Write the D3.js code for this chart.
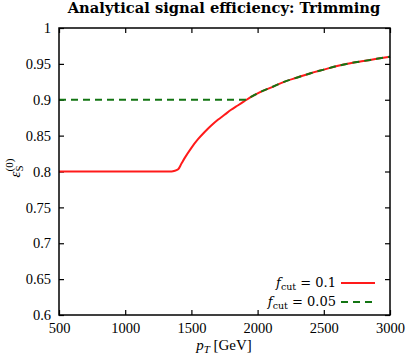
<!DOCTYPE html>
<html>
<head>
<meta charset="utf-8">
<script src="https://cdn.jsdelivr.net/npm/d3@7"></script>
<style>
  body { margin: 0; background: #fff; }
  text { font-family: "Liberation Serif", "DejaVu Serif", serif; }
  .dv { font-family: "DejaVu Serif", serif; }
</style>
</head>
<body>
<script>
// values
const ptTrim   = [500, 1350, 1375, 1400, 1425, 1450, 1500, 1550, 1600, 1650, 1700, 1750, 1800, 1850, 1900, 1950, 2000, 2100, 2200, 2300, 2400, 2500, 2600, 2700, 2800, 2900, 3000];
const effCut10 = [0.800, 0.800, 0.801, 0.803, 0.811, 0.819, 0.833, 0.845, 0.855, 0.864, 0.872, 0.879, 0.886, 0.892, 0.898, 0.904, 0.909, 0.917, 0.925, 0.931, 0.937, 0.942, 0.947, 0.951, 0.954, 0.957, 0.960];
const effCut05 = [0.900, 0.900, 0.900, 0.900, 0.900, 0.900, 0.900, 0.900, 0.900, 0.900, 0.900, 0.900, 0.900, 0.900, 0.900, 0.904, 0.909, 0.917, 0.925, 0.931, 0.937, 0.942, 0.947, 0.951, 0.954, 0.957, 0.960];
const xTicks = [500, 1000, 1500, 2000, 2500, 3000];
const yTicks = [0.6, 0.65, 0.7, 0.75, 0.8, 0.85, 0.9, 0.95, 1];

const width = 407, height = 357;
const margin = {left: 59, right: 17, top: 28, bottom: 42};
const w = width - margin.left - margin.right;
const h = height - margin.top - margin.bottom;

const svg = d3.select("body").append("svg")
    .attr("width", width)
    .attr("height", height);

const g = svg.append("g")
    .attr("transform", "translate(" + margin.left + "," + margin.top + ")");

const x = d3.scaleLinear().domain([500, 3000]).range([0, w]);
const y = d3.scaleLinear().domain([0.6, 1]).range([h, 0]);

// inward ticks on all sides
const tickLen = 5;
g.append("g")
    .attr("transform", "translate(0," + h + ")")
    .call(d3.axisBottom(x).tickValues(xTicks).tickFormat(d3.format("d")).tickSizeInner(-tickLen).tickSizeOuter(0).tickPadding(8))
    .call(a => a.select(".domain").remove())
    .selectAll("text").attr("font-size", "14.5px").attr("fill", "#000");
g.append("g")
    .call(d3.axisTop(x).tickValues(xTicks).tickSizeInner(-tickLen).tickSizeOuter(0))
    .call(a => a.select(".domain").remove())
    .call(a => a.selectAll("text").remove());
g.append("g")
    .call(d3.axisLeft(y).tickValues(yTicks).tickFormat(d => d3.format("")(d)).tickSizeInner(-tickLen).tickSizeOuter(0).tickPadding(8))
    .call(a => a.select(".domain").remove())
    .selectAll("text").attr("font-size", "14.5px").attr("fill", "#000");
g.append("g")
    .attr("transform", "translate(" + w + ",0)")
    .call(d3.axisRight(y).tickValues(yTicks).tickSizeInner(-tickLen).tickSizeOuter(0))
    .call(a => a.select(".domain").remove())
    .call(a => a.selectAll("text").remove());

g.selectAll(".tick line").attr("stroke", "#000").attr("stroke-width", 1.2);

const line = d3.line()
    .x(d => x(d[0]))
    .y(d => y(d[1]))
    .curve(d3.curveMonotoneX);

g.append("path")
    .datum(ptTrim.map((p, i) => [p, effCut10[i]]))
    .attr("d", line)
    .attr("fill", "none")
    .attr("stroke", "#ff1a1a")
    .attr("stroke-width", 2);

g.append("path")
    .datum(ptTrim.map((p, i) => [p, effCut05[i]]))
    .attr("d", line)
    .attr("fill", "none")
    .attr("stroke", "#137513")
    .attr("stroke-width", 2)
    .attr("stroke-dasharray", "7,5");

// frame
g.append("rect")
    .attr("width", w).attr("height", h)
    .attr("fill", "none").attr("stroke", "#000").attr("stroke-width", 1.5);

// title
svg.append("text")
    .attr("class", "dv")
    .attr("x", 224).attr("y", 13)
    .attr("text-anchor", "middle")
    .attr("font-size", "14.7px")
    .attr("font-weight", "bold")
    .text("Analytical signal efficiency: Trimming");

// x label
const xl = svg.append("text")
    .attr("x", 224).attr("y", 350)
    .attr("text-anchor", "middle")
    .attr("font-size", "15px");
xl.append("tspan").attr("font-style", "italic").text("p");
xl.append("tspan").attr("font-style", "italic").attr("font-size", "11px").attr("dy", 3).text("T");
xl.append("tspan").attr("dy", -3).text(" [GeV]");

// y label
const yl = svg.append("text")
    .attr("transform", "translate(20,168) rotate(-90)")
    .attr("text-anchor", "middle")
    .attr("font-size", "15px");
yl.append("tspan").attr("font-style", "italic").text("ε");
yl.append("tspan").attr("font-size", "11px").attr("dy", 3).text("S");
yl.append("tspan").attr("font-size", "11px").attr("dx", -6).attr("dy", -10).text("(0)");

// legend
const legend = [
  {label: "0.1", color: "#ff1a1a", dash: null, yy: 283},
  {label: "0.05", color: "#137513", dash: "7,5", yy: 302}
];
legend.forEach(l => {
  const t = svg.append("text")
      .attr("class", "dv")
      .attr("x", 336).attr("y", l.yy + 4)
      .attr("text-anchor", "end")
      .attr("font-size", "13px");
  t.append("tspan").attr("font-style", "italic").text("f");
  t.append("tspan").attr("font-size", "9.5px").attr("dy", 3).text("cut");
  t.append("tspan").attr("dy", -3).text(" = " + l.label);
  svg.append("line")
      .attr("x1", 341).attr("x2", 375)
      .attr("y1", l.yy).attr("y2", l.yy)
      .attr("stroke", l.color).attr("stroke-width", 2)
      .attr("stroke-dasharray", l.dash);
});
</script>
</body>
</html>
